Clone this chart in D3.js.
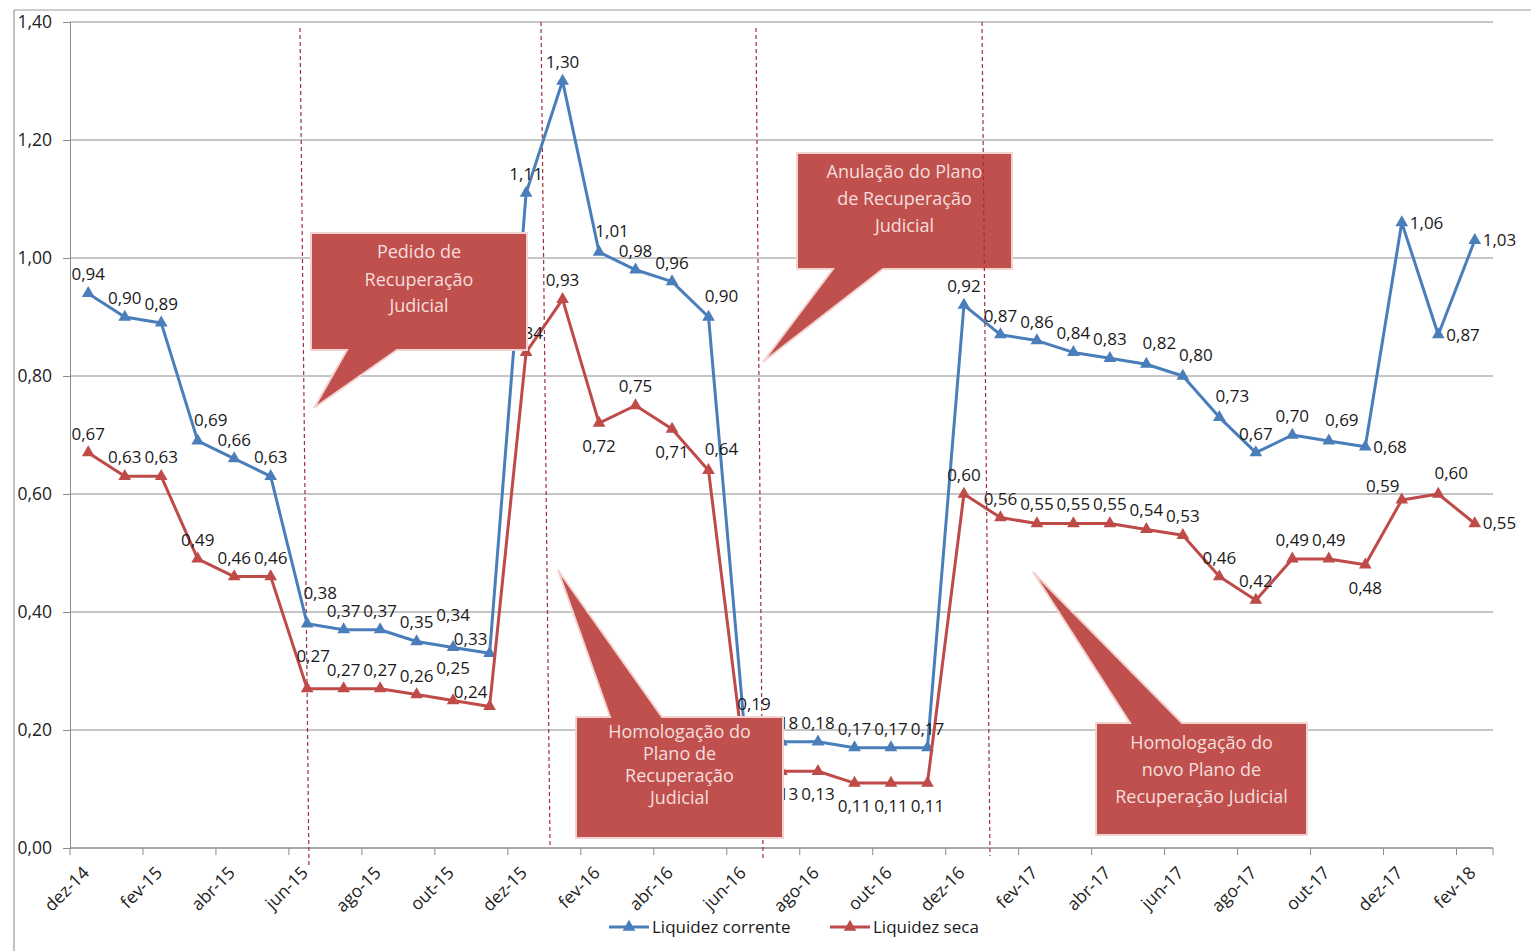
<!DOCTYPE html>
<html><head><meta charset="utf-8">
<script src="https://cdn.jsdelivr.net/npm/d3@7"></script>
<style>
html,body{margin:0;padding:0;background:#fff;}
svg{display:block;font-family:"Open Sans",sans-serif;}
</style></head>
<body>
<svg id="c" width="1531" height="951"></svg>
<script>
// ---- data ----
const months = ["dez-14","jan-15","fev-15","mar-15","abr-15","mai-15","jun-15","jul-15","ago-15","set-15","out-15","nov-15",
"dez-15","jan-16","fev-16","mar-16","abr-16","mai-16","jun-16","jul-16","ago-16","set-16","out-16","nov-16",
"dez-16","jan-17","fev-17","mar-17","abr-17","mai-17","jun-17","jul-17","ago-17","set-17","out-17","nov-17",
"dez-17","jan-18","fev-18"];
const liquidezCorrente = [0.94,0.90,0.89,0.69,0.66,0.63,0.38,0.37,0.37,0.35,0.34,0.33,
1.11,1.30,1.01,0.98,0.96,0.90,0.19,0.18,0.18,0.17,0.17,0.17,
0.92,0.87,0.86,0.84,0.83,0.82,0.80,0.73,0.67,0.70,0.69,0.68,
1.06,0.87,1.03];
const liquidezSeca = [0.67,0.63,0.63,0.49,0.46,0.46,0.27,0.27,0.27,0.26,0.25,0.24,
0.84,0.93,0.72,0.75,0.71,0.64,0.14,0.13,0.13,0.11,0.11,0.11,
0.60,0.56,0.55,0.55,0.55,0.54,0.53,0.46,0.42,0.49,0.49,0.48,
0.59,0.60,0.55];
const yTicks = [0,0.2,0.4,0.6,0.8,1.0,1.2,1.4];
const seriesNames = ["Liquidez corrente","Liquidez seca"];
// label placement codes: a=above, H=high above, U/V=high above-right, T=top-right, R=above-right,
// l=above-left, b=below, r=right
const placeCorrente = "aaaRaaVaaaHl" + "aaRaaRTaaaaa" + "aaaaaRRRaaRr" + "rrr";
const placeSeca     = "aaaaaaUaaaHl" + "aababRbbbbbb" + "aaaaaaaaaaab" + "lRr";
const callouts = [
  {lines:["Pedido de","Recuperação","Judicial"]},
  {lines:["Anulação do Plano","de Recuperação","Judicial"]},
  {lines:["Homologação do","Plano de","Recuperação","Judicial"]},
  {lines:["Homologação do","novo Plano de","Recuperação Judicial"]}
];

// ---- layout ----
const svg = d3.select("#c");
const L = 70, R = 1493, T = 22, B = 848;
const x = d3.scaleBand().domain(months).range([L, R]).paddingInner(0).paddingOuter(0);
const xc = m => x(m) + x.bandwidth()/2;
const y = d3.scaleLinear().domain([0,1.4]).range([B, T]);
const fmt = v => v.toFixed(2).replace(".", ",");
const BLUE = "#4A7EBB", RED = "#BE4B48", BOX = "#C0504D", BOXTXT = "#F4DEDD";
const FS = 17.5, DFS = 17;

// outer frame
svg.append("line").attr("x1",14).attr("x2",1531).attr("y1",10).attr("y2",10).attr("stroke","#999").attr("stroke-width",1.2);
svg.append("line").attr("x1",14).attr("x2",14).attr("y1",10).attr("y2",951).attr("stroke","#999").attr("stroke-width",1.2);

// gridlines
svg.append("g").selectAll("line").data(yTicks).join("line")
  .attr("x1",L).attr("x2",R).attr("y1",d=>y(d)).attr("y2",d=>y(d))
  .attr("stroke","#8c8c8c").attr("stroke-width",1);

// y axis
const yAxis = svg.append("g").attr("transform",`translate(${L},0)`)
  .call(d3.axisLeft(y).tickValues(yTicks).tickFormat(fmt).tickSize(7).tickPadding(11));
yAxis.select(".domain").attr("stroke","#8c8c8c");
yAxis.selectAll(".tick line").attr("stroke","#8c8c8c");
yAxis.selectAll("text").attr("font-size",FS).attr("fill","#222").attr("font-family","Open Sans");

// x axis line + ticks at band boundaries every 2 months
svg.append("line").attr("x1",L).attr("x2",R).attr("y1",B).attr("y2",B).attr("stroke","#8c8c8c");
const tickPos = months.filter((m,i)=>i%2===0).map(m=>x(m)).concat([R]);
svg.append("g").selectAll("line").data(tickPos).join("line")
  .attr("x1",d=>d).attr("x2",d=>d).attr("y1",B).attr("y2",B+7).attr("stroke","#8c8c8c");
svg.append("g").selectAll("text").data(months.filter((m,i)=>i%2===0)).join("text")
  .attr("transform",d=>`translate(${xc(d)+2},${B+26}) rotate(-45)`)
  .attr("text-anchor","end")
  .attr("font-size",FS).attr("fill","#222").text(d=>d);

// dashed event lines (behind callouts)
const dashed = [[300,28,309,868],[541,22,550,845],[756,28,763,860]];
svg.append("g").selectAll("line").data(dashed).join("line")
  .attr("x1",d=>d[0]).attr("y1",d=>d[1]).attr("x2",d=>d[2]).attr("y2",d=>d[3])
  .attr("stroke","#a0303a").attr("stroke-width",1.2).attr("stroke-dasharray","4,3");

// series
const series = [
  {name:seriesNames[0], vals:liquidezCorrente, color:BLUE, place:placeCorrente},
  {name:seriesNames[1], vals:liquidezSeca, color:RED, place:placeSeca}
];
const line = d3.line().x((d,i)=>xc(months[i])).y(d=>y(d));
const tri = d3.symbol().type(d3.symbolTriangle).size(70);
series.forEach(s=>{
  svg.append("path").datum(s.vals).attr("d",line).attr("fill","none")
    .attr("stroke",s.color).attr("stroke-width",3).attr("stroke-linejoin","round");
  svg.append("g").selectAll("path").data(s.vals).join("path")
    .attr("d",tri).attr("fill",s.color)
    .attr("transform",(d,i)=>`translate(${xc(months[i])},${y(d)})`);
});
// data labels
const off = {a:[0,-19,"middle"], H:[0,-32,"middle"], U:[6,-33,"middle"], V:[13,-31,"middle"],
             T:[9,-32,"middle"], R:[13,-21,"middle"], l:[-19,-14,"middle"], b:[0,23,"middle"], r:[8,0,"start"]};
series.forEach(s=>{
  svg.append("g").selectAll("text").data(s.vals).join("text")
    .attr("x",(d,i)=>xc(months[i]) + off[s.place[i]][0])
    .attr("y",(d,i)=>y(d) + off[s.place[i]][1])
    .attr("dy","0.35em")
    .attr("text-anchor",(d,i)=>off[s.place[i]][2])
    .attr("font-size",DFS).attr("fill","#1a1a1a").text(d=>fmt(d));
});

// callouts
const shapes = [
  {box:[311,233,527,350], base:"bottom", b1:347, b2:397, tip:[314,408]},
  {box:[797,153,1012,269], base:"bottom", b1:833, b2:883, tip:[763,362]},
  {box:[576,717,783,838], base:"top", b1:610, b2:662, tip:[558,570]},
  {box:[1096,723,1307,835], base:"top", b1:1130, b2:1182, tip:[1033,572]}
];
const lineYs = [[252,280,306],[172,199,226],[732,754,776,798],[743,770,797]];
shapes.forEach((s,k)=>{
  const [x0,y0,x1,y1] = s.box;
  let p;
  if (s.base==="bottom") {
    p = `M${x0},${y0}H${x1}V${y1}H${s.b2}L${s.tip[0]},${s.tip[1]}L${s.b1},${y1}H${x0}Z`;
  } else {
    p = `M${x0},${y0}H${s.b1}L${s.tip[0]},${s.tip[1]}L${s.b2},${y0}H${x1}V${y1}H${x0}Z`;
  }
  svg.append("path").attr("d",p).attr("fill",BOX).attr("stroke","#f3d3d0").attr("stroke-width",2);
  const cx = (x0+x1)/2;
  svg.append("g").selectAll("text").data(callouts[k].lines).join("text")
    .attr("x",cx).attr("y",(d,i)=>lineYs[k][i]).attr("dy","0.35em")
    .attr("text-anchor","middle").attr("font-size",18).attr("fill",BOXTXT).text(d=>d);
});

// last dashed line drawn over the box
svg.append("line").attr("x1",982).attr("y1",22).attr("x2",990).attr("y2",856)
  .attr("stroke","#a0303a").attr("stroke-width",1.2).attr("stroke-dasharray","4,3");

// legend
const leg = [{x:609, c:BLUE, t:seriesNames[0]},{x:830, c:RED, t:seriesNames[1]}];
leg.forEach(l=>{
  svg.append("line").attr("x1",l.x).attr("x2",l.x+40).attr("y1",927).attr("y2",927).attr("stroke",l.c).attr("stroke-width",3);
  svg.append("path").attr("d",tri).attr("fill",l.c).attr("transform",`translate(${l.x+20},927)`);
  svg.append("text").attr("x",l.x+43).attr("y",927).attr("dy","0.35em").attr("font-size",17).attr("fill","#1a1a1a").text(l.t);
});
</script>
</body></html>
